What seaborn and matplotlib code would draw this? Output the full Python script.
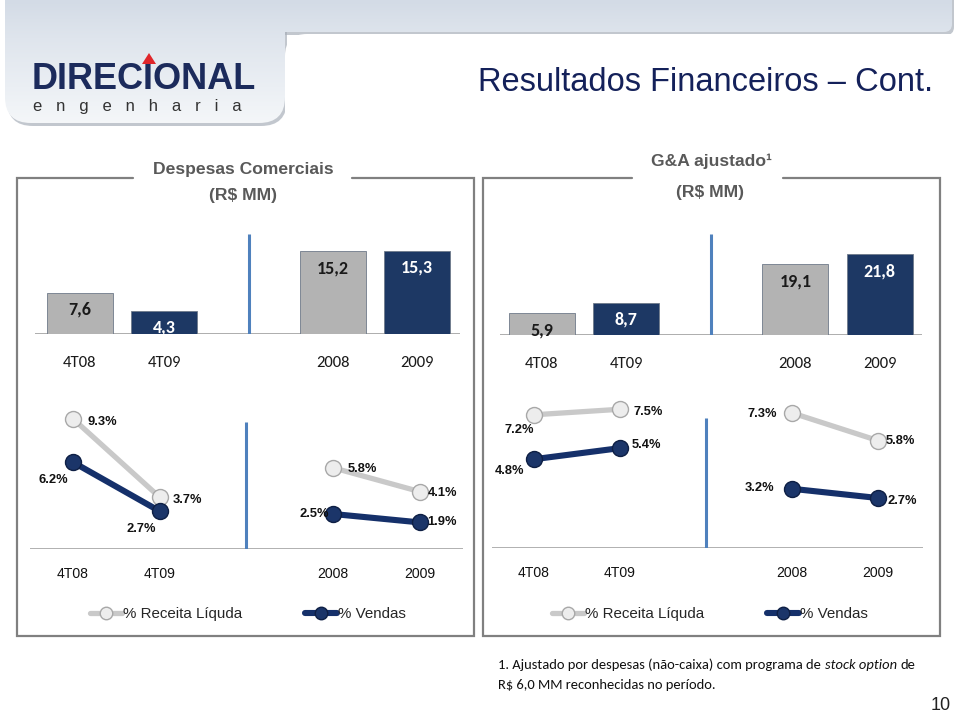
import numpy as np
import pandas as pd
import matplotlib
matplotlib.use('Agg')
import matplotlib.pyplot as plt
import seaborn as sns
from matplotlib import font_manager
from matplotlib.patches import FancyBboxPatch, Polygon
from matplotlib.colors import LinearSegmentedColormap
from matplotlib.lines import Line2D

periodos = ['4T08', '4T09', '2008', '2009']
desp_comerciais = [7.6, 4.3, 15.2, 15.3]      # R$ MM
ga_ajustado = [5.9, 8.7, 19.1, 21.8]          # R$ MM
desp_pct_receita = [9.3, 3.7, 5.8, 4.1]
desp_pct_vendas = [6.2, 2.7, 2.5, 1.9]
ga_pct_receita = [7.2, 7.5, 7.3, 5.8]
ga_pct_vendas = [4.8, 5.4, 3.2, 2.7]
series = ['% Receita Líquda', '% Vendas']

W, H = 960, 712
CINZA_BAR = '#b3b3b3'
AZUL = '#1d3864'
CINZA_LINHA = '#c9c9c9'
AZUL_LINHA = '#15306a'
SEPARADOR = '#4f81bd'

sns.set_theme(style='white')
have = {f.name for f in font_manager.fontManager.ttflist}
if 'Liberation Sans Narrow' in have:
    NARROW, NK = 'Liberation Sans Narrow', 1.0
else:
    NARROW, NK = 'Liberation Sans', 0.84
CALI, CK = ('Carlito', 1.0) if 'Carlito' in have else ('Lato', 0.9)
plt.rcParams['font.family'] = [NARROW, 'DejaVu Sans']

fig = plt.figure(figsize=(9.6, 7.12), dpi=100)
bg = fig.add_axes([0, 0, 1, 1])
bg.set_xlim(0, W)
bg.set_ylim(H, 0)
bg.axis('off')


def px_axes(x0, y0, x1, y1):
    ax = fig.add_axes([x0 / W, 1 - y1 / H, (x1 - x0) / W, (y1 - y0) / H])
    ax.patch.set_alpha(0)
    return ax


# ---- cabecalho ----
hdr_cmap = LinearSegmentedColormap.from_list(
    'hdr', [(0, '#d3dbe6'), (0.3, '#dfe5ed'), (0.7, '#ebeff4'), (1, '#f5f7f9')])
grad = np.linspace(0, 1, 200).reshape(-1, 1)
formas = [
    FancyBboxPatch((5, -20), 947, 52, boxstyle='round,pad=0,rounding_size=8'),
    FancyBboxPatch((5, -20), 280, 143, boxstyle='round,pad=0,rounding_size=26'),
]
for f in formas:
    sombra = FancyBboxPatch((f.get_x() + 2, f.get_y() + 3), f.get_width(), f.get_height(),
                            boxstyle=f.get_boxstyle(), fc='#a9b0ba', ec='none', alpha=0.7, zorder=0.5)
    bg.add_patch(sombra)
for f in formas:
    f.set_facecolor('none')
    f.set_edgecolor('none')
    bg.add_patch(f)
    im = bg.imshow(grad, extent=[0, W, 125, 0], cmap=hdr_cmap, aspect='auto', zorder=1)
    im.set_clip_path(f)
bg.add_patch(FancyBboxPatch((285, 34), 800, 800, boxstyle='round,pad=0,rounding_size=22',
                            fc='white', ec='none', zorder=2))
bg.set_xlim(0, W)
bg.set_ylim(H, 0)

bg.text(32, 89, 'DIRECIONAL', fontsize=26, fontweight='bold', color='#1c2b5c',
        family='Liberation Sans', va='baseline', zorder=3)
bg.add_patch(Polygon([(149, 53), (142, 64), (156, 64)], closed=True, fc='#e0262b', ec='none', zorder=4))
bg.text(33, 111, 'e   n   g   e   n   h   a   r   i   a', fontsize=12, color='#333333',
        family='Liberation Sans', va='baseline', zorder=3)

bg.text(478, 91, 'Resultados Financeiros – Cont.', fontsize=28 * NK, color='#14215a',
        va='baseline', zorder=3)

# ---- quadros ----
for xs, ys in [([133, 17, 17, 474, 474, 352], [178, 178, 636, 636, 178, 178]),
               ([632, 483, 483, 940, 940, 783], [178, 178, 636, 636, 178, 178])]:
    bg.plot(xs, ys, color='#808080', lw=1.6, zorder=3, solid_joinstyle='miter')

tit_kw = dict(ha='center', va='baseline', fontsize=15 * NK, fontweight='bold', color='#595959')
bg.text(243, 174, 'Despesas Comerciais', **tit_kw)
bg.text(243, 200, '(R$ MM)', **tit_kw)
bg.text(711, 166, 'G&A ajustado¹', **tit_kw)
bg.text(710, 197, '(R$ MM)', **tit_kw)

pos = [0, 1, 3, 4]


def bar_panel(ax, valores, ytop, xlim):
    df = pd.DataFrame({'periodo': periodos, 'pos': pos, 'valor': valores})
    cores = dict(zip(periodos, [CINZA_BAR, AZUL, CINZA_BAR, AZUL]))
    sns.barplot(data=df, x='pos', y='valor', hue='periodo', palette=cores, native_scale=True,
                width=0.78, dodge=False, legend=False, ax=ax, edgecolor='#6f7a8a', linewidth=0.6,
                saturation=1, zorder=2)
    for p, v, c in zip(df['pos'], df['valor'], [CINZA_BAR, AZUL, CINZA_BAR, AZUL]):
        ax.annotate(f'{v:.1f}'.replace('.', ','), (p, v), xytext=(0, -12.2), textcoords='offset points',
                    ha='center', va='center', fontsize=13 * CK, fontweight='bold', family=CALI,
                    color='white' if c == AZUL else '#1a1a1a', zorder=3)
    ax.axhline(0, color='#a0a0a0', lw=1.2, zorder=1)
    ax.vlines(2, 0, ytop, color=SEPARADOR, lw=2.2)
    ax.set_xlim(*xlim)
    ax.set_ylim(0, ytop)
    ax.set_xticks(pos)
    ax.set_xticklabels(periodos, family=CALI, fontsize=12 * CK, color='#1a1a1a')
    ax.tick_params(axis='x', length=0, pad=16)
    ax.set_yticks([])
    ax.set_xlabel('')
    ax.set_ylabel('')
    sns.despine(ax=ax, left=True, bottom=True)


def line_panel(ax, receita, vendas, offsets, ytop, sep_top, xlim):
    grupo = ['tri', 'tri', 'ano', 'ano']
    df = pd.DataFrame({'pos': pos * 2, 'pct': receita + vendas,
                       'serie': [series[0]] * 4 + [series[1]] * 4, 'grupo': grupo * 2})
    estilos = {series[0]: dict(color=CINZA_LINHA, lw=3.8, mfc='#ededed', mec='#a8a8a8', zorder=3),
               series[1]: dict(color=AZUL_LINHA, lw=4.4, mfc='#1b3569', mec='#0e1f44', zorder=4)}
    for s in series:
        st = estilos[s]
        sns.lineplot(data=df[df['serie'] == s], x='pos', y='pct', units='grupo', estimator=None,
                     color=st['color'], linewidth=st['lw'], marker='o', markersize=11.5,
                     markerfacecolor=st['mfc'], markeredgecolor=st['mec'], markeredgewidth=1,
                     legend=False, ax=ax, clip_on=False, zorder=st['zorder'])
    for (p, v, off) in zip(df['pos'], df['pct'], offsets):
        ax.annotate(f'{v:.1f}%', (p, v), xytext=(off[0] * 0.72, -off[1] * 0.72),
                    textcoords='offset points', ha='center', va='center',
                    fontsize=11 * NK, fontweight='bold', color='#111111', zorder=5)
    ax.axhline(0, color='#b0b0b0', lw=1.4, zorder=1)
    ax.vlines(2, 0, sep_top, color=SEPARADOR, lw=2.2)
    ax.set_xlim(*xlim)
    ax.set_ylim(0, ytop)
    ax.set_xticks(pos)
    ax.set_xticklabels(periodos, fontsize=12 * NK, color='#111111')
    ax.tick_params(axis='x', length=0, pad=13)
    ax.set_yticks([])
    ax.set_xlabel('')
    ax.set_ylabel('')
    sns.despine(ax=ax, left=True, bottom=True)


ax1 = px_axes(35, 234, 460, 334)
bar_panel(ax1, desp_comerciais, 18.35, (-0.534, 4.51))
ax2 = px_axes(500, 234, 922, 335)
bar_panel(ax2, ga_ajustado, 27.3, (-0.497, 4.5))

# deslocamento dos rotulos (px: direita, baixo)
off_desp = [(29, 3), (28, 3), (29, 1), (23, 1), (-20, 18), (-18, 18), (-19, 0), (22, 0)]
off_ga = [(-15, 15), (28, 3), (-30, 1), (22, 0), (-24, 12), (26, -3), (-33, -1), (24, 3)]
ax3 = px_axes(30, 400, 463, 549)
line_panel(ax3, desp_pct_receita, desp_pct_vendas, off_desp, 10.64, 9.07, (-0.496, 4.5))
ax4 = px_axes(492, 400, 923, 548)
line_panel(ax4, ga_pct_receita, ga_pct_vendas, off_ga, 8.0, 7.03, (-0.488, 4.52))

# legendas
handles = [Line2D([], [], color=CINZA_LINHA, lw=3.8, marker='o', ms=9, mfc='#ededed', mec='#a8a8a8'),
           Line2D([], [], color=AZUL_LINHA, lw=4.4, marker='o', ms=9, mfc='#1b3569', mec='#0e1f44')]
for x0 in (90, 552):
    fig.legend(handles, series, loc='center left', bbox_to_anchor=(x0 / W, 1 - 614 / H),
               bbox_transform=fig.transFigure, ncol=2, frameon=False, fontsize=13 * NK,
               handlelength=2.1, handletextpad=0.1, columnspacing=4.1, borderpad=0,
               borderaxespad=0)

# nota de rodape
fn_kw = dict(fontsize=10.45, family=CALI, color='#111111', va='baseline')
t1 = bg.text(498, 669, '1. Ajustado por despesas (não-caixa) com programa de', **fn_kw)
fig.canvas.draw()
r = fig.canvas.get_renderer()
x_end = t1.get_window_extent(r).x1
t2 = bg.text(x_end + 3.8, 669, 'stock option', style='italic', **fn_kw)
x_end = t2.get_window_extent(r).x1
bg.text(x_end + 3.8, 669, 'de', **fn_kw)
bg.text(498, 689, 'R$ 6,0 MM reconhecidas no período.', **fn_kw)
bg.text(941, 705, '10', ha='center', va='center', fontsize=13, color='#222222')

fig.savefig('out.png', dpi=100)
